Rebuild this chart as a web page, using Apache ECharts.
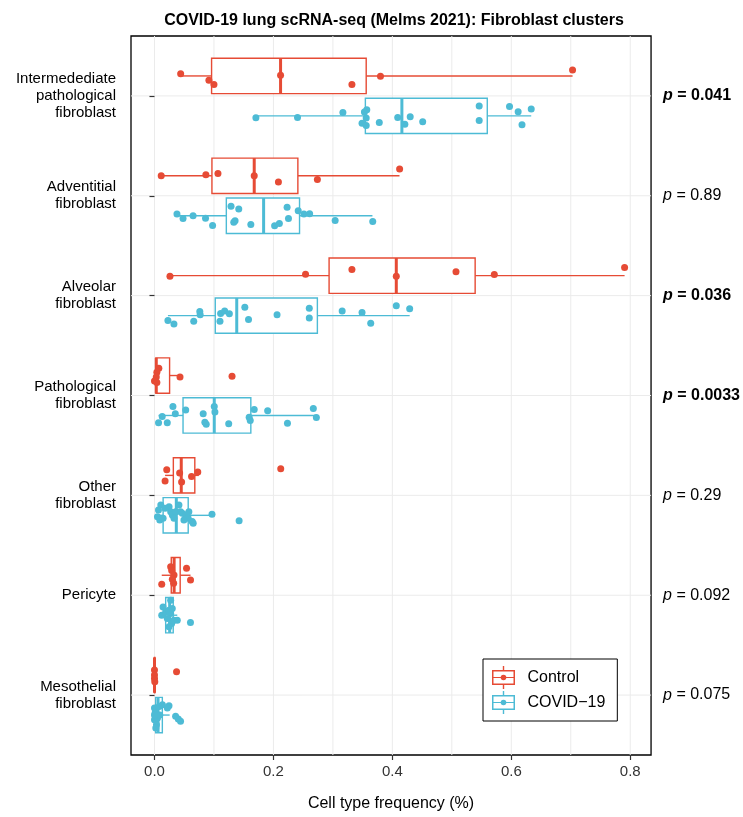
<!DOCTYPE html>
<html><head><meta charset="utf-8">
<script src="https://cdn.jsdelivr.net/npm/echarts@6/dist/echarts.min.js"></script>
<style>html,body{margin:0;padding:0;background:#fff}#c{width:743px;height:817px}</style>
</head><body><div id="c"></div>
<script>
const categories = ['Intermedediate\npathological\nfibroblast','Adventitial\nfibroblast','Alveolar\nfibroblast','Pathological\nfibroblast','Other\nfibroblast','Pericyte','Mesothelial\nfibroblast'];
const groups = ['Control','COVID\u221219'];
const groupColors = ['#E64B35','#4DBBD5'];
const pValues = ['0.041','0.89','0.036','0.0033','0.29','0.092','0.075'];
const pSignificant = [true,false,true,true,false,false,false];
const xTicks = [0,0.2,0.4,0.6,0.8];
const xMinorGrid = [0.1,0.3,0.5,0.7];
const yTicks = [1,2,3,4,5,6,7];

// box stats per category: [min, q1, median, q3, max]
const controlBoxes = [
  [0.044,0.096,0.212,0.356,0.703],
  [0.0113,0.0966,0.1677,0.2411,0.412],
  [0.026,0.2936,0.4066,0.5392,0.7905],
  [0,0.0023,0.003,0.0254,0.0429],
  [0.0178,0.0317,0.045,0.0678,0.0745],
  [0.0122,0.0282,0.033,0.0432,0.0606],
  [0,0,0,0.0006,0.0006]
];
const covidBoxes = [
  [0.1705,0.3546,0.416,0.5596,0.6335],
  [0.0378,0.1208,0.1835,0.2439,0.3665],
  [0.0226,0.1022,0.1383,0.2739,0.4291],
  [0.0068,0.048,0.1005,0.162,0.2722],
  [0.003,0.0145,0.0367,0.0567,0.0967],
  [0.0122,0.0188,0.0255,0.0315,0.0383],
  [0,0.002,0.006,0.0132,0.0255]
];

// points per category: [value, vertical jitter]
const controlIntermed = [[0.044,-0.022],[0.0915,0.042],[0.100,0.086],[0.212,-0.008],[0.332,0.086],[0.380,0.002],[0.703,-0.059]];
const covidIntermed = [[0.1705,0.019],[0.2405,0.015],[0.3168,-0.035],[0.357,-0.062],[0.353,-0.039],[0.356,0.022],[0.349,0.073],[0.356,0.096],[0.378,0.066],[0.409,0.015],[0.421,0.083],[0.430,0.008],[0.451,0.059],[0.546,-0.1],[0.546,0.046],[0.597,-0.093],[0.6115,-0.042],[0.6335,-0.069],[0.618,0.089]];
const controlAdvent = [[0.0113,0],[0.0864,-0.01],[0.1067,-0.024],[0.1677,0],[0.2084,0.061],[0.2739,0.037],[0.4122,-0.068]];
const covidAdvent = [[0.0378,-0.017],[0.048,0.027],[0.0649,0],[0.0858,0.024],[0.0977,0.098],[0.1287,-0.095],[0.1417,-0.068],[0.1355,0.051],[0.1333,0.064],[0.162,0.088],[0.202,0.101],[0.210,0.078],[0.2253,0.027],[0.223,-0.084],[0.2417,-0.051],[0.2513,-0.017],[0.2609,-0.02],[0.3038,0.047],[0.367,0.057]];
const controlAlveolar = [[0.026,0.005],[0.254,-0.015],[0.332,-0.062],[0.4066,0.005],[0.507,-0.039],[0.5714,-0.012],[0.7905,-0.083]];
const covidAlveolar = [[0.0226,0.049],[0.0327,0.083],[0.066,0.056],[0.0762,-0.042],[0.0768,-0.008],[0.1101,0.056],[0.1112,-0.022],[0.118,-0.046],[0.1259,-0.019],[0.1519,-0.083],[0.1581,0.039],[0.2061,-0.008],[0.2603,-0.073],[0.2603,0.025],[0.3156,-0.046],[0.349,-0.032],[0.3636,0.076],[0.4066,-0.1],[0.4291,-0.069]];
const controlPatho = [[0.0073,-0.073],[0.004,-0.032],[0.003,0.015],[0.0,0.056],[0.004,0.069],[0.0429,0.015],[0.1304,0.008]];
const covidPatho = [[0.0068,0.074],[0.0215,0.074],[0.013,0.01],[0.031,-0.091],[0.035,-0.017],[0.0525,-0.054],[0.0819,-0.017],[0.0847,0.068],[0.087,0.088],[0.1005,-0.091],[0.1016,-0.034],[0.1248,0.084],[0.1592,0.017],[0.161,0.051],[0.1677,-0.061],[0.1903,-0.047],[0.2236,0.078],[0.2671,-0.071],[0.2722,0.02]];
const controlOther = [[0.0206,-0.057],[0.0178,0.057],[0.0423,-0.023],[0.0456,0.066],[0.0623,0.01],[0.0728,-0.033],[0.2123,-0.066]];
const covidOther = [[0.0106,-0.103],[0.0067,-0.053],[0.005,0.013],[0.0089,0.047],[0.0145,0.03],[0.0178,-0.07],[0.0245,-0.086],[0.0272,-0.037],[0.03,-0.003],[0.0356,-0.037],[0.0411,-0.103],[0.0439,-0.037],[0.0467,-0.02],[0.0523,-0.003],[0.0567,0.03],[0.0578,-0.037],[0.0634,0.063],[0.0651,0.08],[0.0495,0.047],[0.0328,0.03],[0.0967,-0.01],[0.1423,0.053]];
const controlPericyte = [[0.0272,-0.086],[0.0289,-0.047],[0.0328,-0.003],[0.03,0.04],[0.0322,0.08],[0.0539,-0.07],[0.0606,0.047],[0.0122,0.09]];
const covidPericyte = [[0.0144,-0.083],[0.0122,0],[0.0188,-0.033],[0.0244,-0.05],[0.0272,-0.017],[0.0299,-0.066],[0.0216,0.033],[0.0327,0.05],[0.0383,0.05],[0.0288,0.083],[0.0244,0.116],[0.0605,0.073],[0.0272,-0.15]];
const controlMeso = [[0,-0.05],[0,0],[0.0005,0.066],[0,0.033],[0.0371,-0.033]];
const covidMeso = [[0,-0.07],[0.001,-0.02],[0,0.047],[0.0033,0.096],[0.0078,-0.086],[0.0133,-0.103],[0.0244,-0.093],[0.0216,-0.07],[0.005,0.03],[0.0089,0],[0.0355,0.013],[0.0438,0.063],[0.04,0.04],[0.0022,0.13],[0,0]];

const controlPoints = [controlIntermed,controlAdvent,controlAlveolar,controlPatho,controlOther,controlPericyte,controlMeso];
const covidPoints = [covidIntermed,covidAdvent,covidAlveolar,covidPatho,covidOther,covidPericyte,covidMeso];

const X_MIN = -0.0395, X_MAX = 0.835, Y_MIN = 0.4, Y_MAX = 7.6;
const DODGE = [-0.2, 0.2];
const BOX_HALF = 0.177;
const FONT = 'Liberation Sans, Arial, Helvetica, sans-serif';

const chart = echarts.init(document.getElementById('c'), null, {renderer:'canvas'});

function boxRender(offset, color) {
  return function (params, api) {
    const cat = api.value(0), mn = api.value(1), q1 = api.value(2), md = api.value(3), q3 = api.value(4), mx = api.value(5);
    const yc = cat + offset;
    const a = api.coord([q1, yc - BOX_HALF]);
    const b = api.coord([q3, yc + BOX_HALF]);
    const c0 = api.coord([mn, yc]), c1 = api.coord([q1, yc]), c2 = api.coord([q3, yc]), c3 = api.coord([mx, yc]);
    const m0 = api.coord([md, yc - BOX_HALF]), m1 = api.coord([md, yc + BOX_HALF]);
    const lineStyle = {stroke: color, lineWidth: 1.4, fill: null};
    return {
      type: 'group',
      children: [
        {type:'line', shape:{x1:c0[0],y1:c0[1],x2:c1[0],y2:c1[1]}, style:lineStyle},
        {type:'line', shape:{x1:c2[0],y1:c2[1],x2:c3[0],y2:c3[1]}, style:lineStyle},
        {type:'rect', shape:{x:Math.min(a[0],b[0]), y:Math.min(a[1],b[1]), width:Math.abs(b[0]-a[0]), height:Math.abs(b[1]-a[1])}, style:{fill:'#fff', stroke:color, lineWidth:1.4}},
        {type:'line', shape:{x1:m0[0],y1:m0[1],x2:m1[0],y2:m1[1]}, style:{stroke:color, lineWidth:3}}
      ]
    };
  };
}

function boxData(boxes) {
  return boxes.map((b, i) => [i + 1].concat(b));
}
function pointData(points, offset) {
  const out = [];
  points.forEach((arr, i) => arr.forEach(p => out.push([p[0], i + 1 + offset + p[1]])));
  return out;
}

const ICON = 'path://M0.5 4H23.5V19H0.5Z M2 5.5V17.5H22V5.5Z M2 10.9H22V12.1H2Z M11.3 0H12.7V4H11.3Z M11.3 19H12.7V23H11.3Z M14.8 11.5A2.8 2.8 0 1 1 9.2 11.5A2.8 2.8 0 1 1 14.8 11.5Z';

const option = {
  backgroundColor: '#fff',
  animation: false,
  title: {
    text: 'COVID-19 lung scRNA-seq (Melms 2021): Fibroblast clusters',
    left: 389, top: 8, textAlign: 'center',
    textStyle: {fontFamily: FONT, fontSize: 16, fontWeight: 'bold', color: '#000'}
  },
  legend: {
    orient: 'vertical', left: 483, top: 659,
    padding: [7, 12, 7, 9], itemGap: 2, itemWidth: 38, itemHeight: 23,
    backgroundColor: '#fff', borderColor: '#000', borderWidth: 1,
    textStyle: {fontFamily: FONT, fontSize: 16, color: '#000'},
    data: groups.map(g => ({name: g, icon: ICON}))
  },
  grid: {left: 131, right: 90, top: 36, bottom: 59, show: true, borderColor: '#000', borderWidth: 1.3, backgroundColor: 'transparent'},
  xAxis: {
    type: 'value', min: X_MIN, max: X_MAX,
    name: 'Cell type frequency (%)', nameLocation: 'middle', nameGap: 41,
    nameTextStyle: {fontFamily: FONT, fontSize: 16, color: '#000'},
    axisLine: {show: false},
    axisTick: {show: true, customValues: xTicks, length: 5, lineStyle: {color: '#333', width: 1.2}},
    axisLabel: {customValues: xTicks, margin: 9, formatter: v => v.toFixed(1), fontFamily: FONT, fontSize: 15, color: '#333'},
    splitLine: {show: false}
  },
  yAxis: [{
    type: 'value', min: Y_MIN, max: Y_MAX, inverse: true,
    axisLine: {show: false},
    axisTick: {show: true, customValues: yTicks, length: 5, lineStyle: {color: '#333', width: 1.2}},
    axisLabel: {customValues: yTicks, margin: 15, formatter: v => categories[Math.round(v) - 1], fontFamily: FONT, fontSize: 15, color: '#000', lineHeight: 17, align: 'right'},
    splitLine: {show: false}
  }, {
    type: 'value', min: Y_MIN, max: Y_MAX, inverse: true, position: 'right',
    axisLine: {show: false}, axisTick: {show: false}, splitLine: {show: false},
    axisLabel: {
      customValues: yTicks, margin: 12,
      formatter: v => { const i = Math.round(v) - 1; return pSignificant[i] ? '{pb|p}{nb| = ' + pValues[i] + '}' : '{p|p}{n| = ' + pValues[i] + '}'; },
      rich: {
        p: {fontFamily: FONT, fontSize: 16, fontStyle: 'italic', color: '#000'},
        n: {fontFamily: FONT, fontSize: 16, color: '#000'},
        pb: {fontFamily: FONT, fontSize: 16, fontStyle: 'italic', fontWeight: 'bold', color: '#000'},
        nb: {fontFamily: FONT, fontSize: 16, fontWeight: 'bold', color: '#000'}
      }
    }
  }],
  series: [
    {
      type: 'custom', name: 'vgrid', silent: true, z: 0, clip: true,
      data: xTicks.concat(xMinorGrid).map(v => [v]),
      encode: {x: 0},
      renderItem: (params, api) => {
        const v = api.value(0);
        const p0 = api.coord([v, Y_MIN]), p1 = api.coord([v, Y_MAX]);
        return {type: 'line', shape: {x1: p0[0], y1: p0[1], x2: p1[0], y2: p1[1]}, style: {stroke: '#EBEBEB', lineWidth: 1}};
      }
    },
    {
      type: 'custom', name: 'hgrid', silent: true, z: 0, clip: true,
      data: yTicks.map(v => [v]),
      encode: {y: 0},
      renderItem: (params, api) => {
        const v = api.value(0);
        const p0 = api.coord([X_MIN, v]), p1 = api.coord([X_MAX, v]);
        return {type: 'line', shape: {x1: p0[0], y1: p0[1], x2: p1[0], y2: p1[1]}, style: {stroke: '#EBEBEB', lineWidth: 1}};
      }
    },
    {
      type: 'custom', name: groups[0], z: 2, clip: true,
      itemStyle: {color: groupColors[0]},
      data: boxData(controlBoxes), encode: {x: [1, 5], y: 0},
      renderItem: boxRender(DODGE[0], groupColors[0])
    },
    {
      type: 'custom', name: groups[1], z: 2, clip: true,
      itemStyle: {color: groupColors[1]},
      data: boxData(covidBoxes), encode: {x: [1, 5], y: 0},
      renderItem: boxRender(DODGE[1], groupColors[1])
    },
    {
      type: 'scatter', name: groups[0], z: 3, symbolSize: 7,
      itemStyle: {color: groupColors[0], opacity: 1},
      data: pointData(controlPoints, DODGE[0])
    },
    {
      type: 'scatter', name: groups[1], z: 3, symbolSize: 7,
      itemStyle: {color: groupColors[1], opacity: 1},
      data: pointData(covidPoints, DODGE[1])
    }
  ]
};
chart.setOption(option);
</script>
</body></html>
